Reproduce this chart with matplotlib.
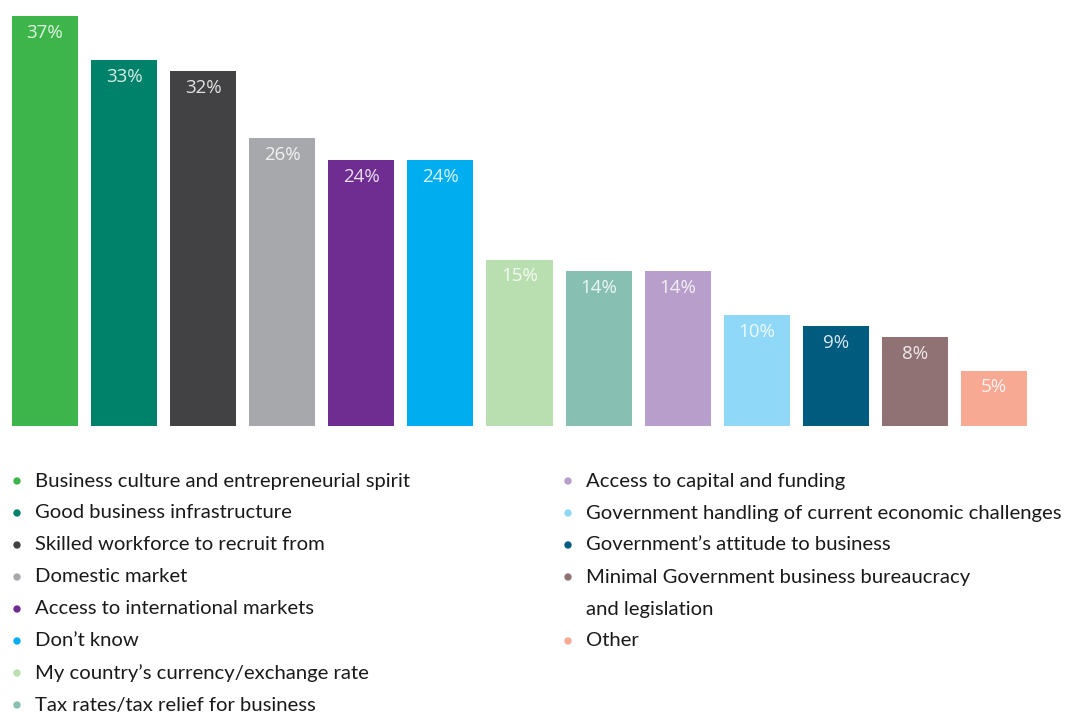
import matplotlib
matplotlib.use("Agg")
import matplotlib.pyplot as plt

categories = [
    "Business culture and entrepreneurial spirit",
    "Good business infrastructure",
    "Skilled workforce to recruit from",
    "Domestic market",
    "Access to international markets",
    "Don\u2019t know",
    "My country\u2019s currency/exchange rate",
    "Tax rates/tax relief for business",
    "Access to capital and funding",
    "Government handling of current economic challenges",
    "Government\u2019s attitude to business",
    "Minimal Government business bureaucracy\nand legislation",
    "Other",
]
values = [37, 33, 32, 26, 24, 24, 15, 14, 14, 10, 9, 8, 5]
colors = ["#3db54a", "#00826a", "#424143", "#a7a8ab", "#6f2c91", "#00aeef",
          "#b9dfb0", "#87c0b3", "#b79ecb", "#8fd8f7", "#005b7f", "#917274",
          "#f7a994"]

W, H = 1067, 713
fig = plt.figure(figsize=(W / 100, H / 100), dpi=100)
plt.rcParams['font.family'] = ['Lato', 'DejaVu Sans']

# bar axes in pixel geometry
left_px, right_px, base_px, top_px = 12, 1027, 426, 16
ax = fig.add_axes([left_px / W, (H - base_px) / H,
                   (right_px - left_px) / W, (base_px - top_px) / H])
bw = 66 / 79
x = list(range(len(values)))
ax.bar(x, values, width=bw, color=colors)
ax.set_xlim(-bw / 2, len(values) - 1 + bw / 2)
ax.set_ylim(0, 37)
ax.axis("off")
for xi, v in zip(x, values):
    ax.annotate(f"{v}%", (xi, v), xytext=(0, -12), textcoords="offset points",
                ha="center", va="center", fontsize=13.5, color="white",
                alpha=0.85, family=["Open Sans", "DejaVu Sans"])

# legend overlay in pixel coords
lg = fig.add_axes([0, 0, 1, 1])
lg.set_xlim(0, W)
lg.set_ylim(H, 0)
lg.axis("off")
col_x = [(17, 35), (568, 586)]
row0, step = 481, 32
row = 0
for i, (cat, c) in enumerate(zip(categories, colors)):
    if i == 8:
        row = 0
    col = 0 if i < 8 else 1
    bx, tx = col_x[col]
    lg.scatter([bx], [row0 + step * row], s=28, color=c, edgecolors="none")
    for line in cat.split("\n"):
        lg.text(tx, row0 + step * row, line, fontsize=14.6, color="#1a1a1a",
                va="center", ha="left")
        row += 1

fig.savefig("out.png", dpi=100)
